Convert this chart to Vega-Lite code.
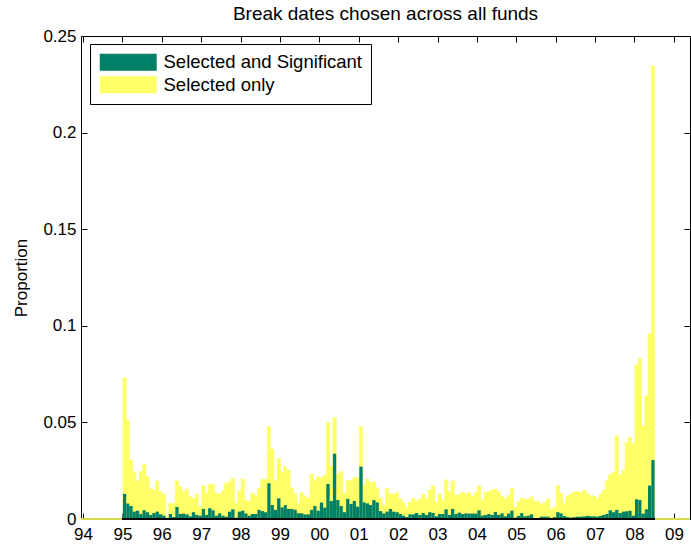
{
  "$schema": "https://vega.github.io/schema/vega-lite/v6.json",
  "width": 609,
  "height": 483,
  "autosize": "none",
  "padding": {"left": 81, "top": 36, "right": 1, "bottom": 26},
  "background": "white",
  "config": {
    "font": "Liberation Sans",
    "view": {"stroke": "#000", "strokeWidth": 1},
    "axis": {"grid": false, "domainColor": "#000", "tickColor": "#000", "labelColor": "#000", "titleColor": "#000", "labelFontSize": 17, "titleFontSize": 17, "titleFontWeight": "normal", "tickSize": -6}
  },
  "title": {"text": "Break dates chosen across all funds", "fontSize": 19, "fontWeight": "normal", "color": "#000", "anchor": "middle", "offset": 3},
  "data": {"values": [
    {"d":"1995-01-15","t":0.073,"s":0.013},{"d":"1995-02-15","t":0.051,"s":0.008},{"d":"1995-03-15","t":0.0305,"s":0.0067},{"d":"1995-04-15","t":0.0245,"s":0.0038},{"d":"1995-05-15","t":0.0197,"s":0.0043},{"d":"1995-06-15","t":0.0245,"s":0.0026},{"d":"1995-07-15","t":0.0283,"s":0.0045},{"d":"1995-08-15","t":0.0219,"s":0.0035},{"d":"1995-09-15","t":0.0155,"s":0.0021},{"d":"1995-10-15","t":0.015,"s":0.0031},{"d":"1995-11-15","t":0.0197,"s":0.0038},{"d":"1995-12-15","t":0.0141,"s":0.0024},
    {"d":"1996-01-15","t":0.0128,"s":0.0017},{"d":"1996-02-15","t":0.0012,"s":0.0003},{"d":"1996-03-15","t":0.0081,"s":0.0026},{"d":"1996-04-15","t":0.008,"s":0.001},{"d":"1996-05-15","t":0.0197,"s":0.0062},{"d":"1996-06-15","t":0.0167,"s":0.0026},{"d":"1996-07-15","t":0.0141,"s":0.0028},{"d":"1996-08-15","t":0.0155,"s":0.0024},{"d":"1996-09-15","t":0.0116,"s":0.0014},{"d":"1996-10-15","t":0.0107,"s":0.0035},{"d":"1996-11-15","t":0.0129,"s":0.0021},{"d":"1996-12-15","t":0.0064,"s":0.0017},
    {"d":"1997-01-15","t":0.0173,"s":0.0052},{"d":"1997-02-15","t":0.0133,"s":0.0021},{"d":"1997-03-15","t":0.0179,"s":0.0055},{"d":"1997-04-15","t":0.0179,"s":0.0045},{"d":"1997-05-15","t":0.0133,"s":0.0017},{"d":"1997-06-15","t":0.0129,"s":0.0029},{"d":"1997-07-15","t":0.0147,"s":0.0017},{"d":"1997-08-15","t":0.0185,"s":0.0012},{"d":"1997-09-15","t":0.0193,"s":0.0038},{"d":"1997-10-15","t":0.021,"s":0.005},{"d":"1997-11-15","t":0.0081,"s":0.0007},{"d":"1997-12-15","t":0.0145,"s":0.0038},
    {"d":"1998-01-15","t":0.0207,"s":0.0043},{"d":"1998-02-15","t":0.0098,"s":0.0029},{"d":"1998-03-15","t":0.0093,"s":0.0017},{"d":"1998-04-15","t":0.0135,"s":0.0026},{"d":"1998-05-15","t":0.0121,"s":0.0026},{"d":"1998-06-15","t":0.0159,"s":0.0047},{"d":"1998-07-15","t":0.0205,"s":0.0041},{"d":"1998-08-15","t":0.0205,"s":0.0035},{"d":"1998-09-15","t":0.0478,"s":0.0185},{"d":"1998-10-15","t":0.0362,"s":0.0072},{"d":"1998-11-15","t":0.0197,"s":0.0047},{"d":"1998-12-15","t":0.0314,"s":0.0107},
    {"d":"1999-01-15","t":0.0242,"s":0.006},{"d":"1999-02-15","t":0.0271,"s":0.0072},{"d":"1999-03-15","t":0.0252,"s":0.0052},{"d":"1999-04-15","t":0.0162,"s":0.0052},{"d":"1999-05-15","t":0.0131,"s":0.0048},{"d":"1999-06-15","t":0.0081,"s":0.003},{"d":"1999-07-15","t":0.0136,"s":0.0029},{"d":"1999-08-15","t":0.0121,"s":0.0024},{"d":"1999-09-15","t":0.0107,"s":0.0024},{"d":"1999-10-15","t":0.0231,"s":0.0047},{"d":"1999-11-15","t":0.0197,"s":0.0067},{"d":"1999-12-15","t":0.0219,"s":0.0043},
    {"d":"2000-01-15","t":0.0214,"s":0.0085},{"d":"2000-02-15","t":0.0228,"s":0.0059},{"d":"2000-03-15","t":0.05,"s":0.0181},{"d":"2000-04-15","t":0.0274,"s":0.0093},{"d":"2000-05-15","t":0.0524,"s":0.0338},{"d":"2000-06-15","t":0.0233,"s":0.0098},{"d":"2000-07-15","t":0.0245,"s":0.0067},{"d":"2000-08-15","t":0.0133,"s":0.0035},{"d":"2000-09-15","t":0.02,"s":0.0104},{"d":"2000-10-15","t":0.0197,"s":0.0078},{"d":"2000-11-15","t":0.0214,"s":0.0093},{"d":"2000-12-15","t":0.0214,"s":0.0064},
    {"d":"2001-01-15","t":0.0478,"s":0.0271},{"d":"2001-02-15","t":0.0176,"s":0.0086},{"d":"2001-03-15","t":0.0207,"s":0.0081},{"d":"2001-04-15","t":0.019,"s":0.0072},{"d":"2001-05-15","t":0.0193,"s":0.0098},{"d":"2001-06-15","t":0.0162,"s":0.0086},{"d":"2001-07-15","t":0.011,"s":0.0041},{"d":"2001-08-15","t":0.0072,"s":0.0029},{"d":"2001-09-15","t":0.0159,"s":0.0038},{"d":"2001-10-15","t":0.0129,"s":0.0052},{"d":"2001-11-15","t":0.0129,"s":0.0038},{"d":"2001-12-15","t":0.0138,"s":0.0035},
    {"d":"2002-01-15","t":0.0104,"s":0.0026},{"d":"2002-02-15","t":0.0086,"s":0.0017},{"d":"2002-03-15","t":0.006,"s":0.001},{"d":"2002-04-15","t":0.0086,"s":0.0024},{"d":"2002-05-15","t":0.0107,"s":0.0024},{"d":"2002-06-15","t":0.0093,"s":0.0031},{"d":"2002-07-15","t":0.0102,"s":0.0021},{"d":"2002-08-15","t":0.0128,"s":0.0031},{"d":"2002-09-15","t":0.0104,"s":0.0021},{"d":"2002-10-15","t":0.015,"s":0.0035},{"d":"2002-11-15","t":0.0171,"s":0.0031},{"d":"2002-12-15","t":0.0085,"s":0.0014},
    {"d":"2003-01-15","t":0.0128,"s":0.0026},{"d":"2003-02-15","t":0.0095,"s":0.0026},{"d":"2003-03-15","t":0.0202,"s":0.005},{"d":"2003-04-15","t":0.0141,"s":0.0021},{"d":"2003-05-15","t":0.0197,"s":0.0052},{"d":"2003-06-15","t":0.0121,"s":0.0026},{"d":"2003-07-15","t":0.0128,"s":0.0033},{"d":"2003-08-15","t":0.0138,"s":0.0026},{"d":"2003-09-15","t":0.0129,"s":0.0029},{"d":"2003-10-15","t":0.0138,"s":0.0028},{"d":"2003-11-15","t":0.0116,"s":0.0028},{"d":"2003-12-15","t":0.0136,"s":0.0028},
    {"d":"2004-01-15","t":0.0173,"s":0.0045},{"d":"2004-02-15","t":0.0098,"s":0.0017},{"d":"2004-03-15","t":0.0138,"s":0.0021},{"d":"2004-04-15","t":0.0141,"s":0.0026},{"d":"2004-05-15","t":0.015,"s":0.0021},{"d":"2004-06-15","t":0.0155,"s":0.0036},{"d":"2004-07-15","t":0.0141,"s":0.0021},{"d":"2004-08-15","t":0.0119,"s":0.0029},{"d":"2004-09-15","t":0.0104,"s":0.0014},{"d":"2004-10-15","t":0.0121,"s":0.0028},{"d":"2004-11-15","t":0.0159,"s":0.0043},{"d":"2004-12-15","t":0.006,"s":0.0007},
    {"d":"2005-01-15","t":0.009,"s":0.0016},{"d":"2005-02-15","t":0.0107,"s":0.0031},{"d":"2005-03-15","t":0.0102,"s":0.0014},{"d":"2005-04-15","t":0.0102,"s":0.0017},{"d":"2005-05-15","t":0.0114,"s":0.0024},{"d":"2005-06-15","t":0.0093,"s":0.0003},{"d":"2005-07-15","t":0.009,"s":0.0003},{"d":"2005-08-15","t":0.0078,"s":0.0012},{"d":"2005-09-15","t":0.0086,"s":0.0012},{"d":"2005-10-15","t":0.0104,"s":0.0012},{"d":"2005-11-15","t":0.0052,"s":0.0003},{"d":"2005-12-15","t":0.006,"s":0.001},
    {"d":"2006-01-15","t":0.0173,"s":0.0035},{"d":"2006-02-15","t":0.0133,"s":0.0029},{"d":"2006-03-15","t":0.0081,"s":0.0016},{"d":"2006-04-15","t":0.0119,"s":0.001},{"d":"2006-05-15","t":0.0129,"s":0.0007},{"d":"2006-06-15","t":0.0141,"s":0.001},{"d":"2006-07-15","t":0.0141,"s":0.0012},{"d":"2006-08-15","t":0.0136,"s":0.0012},{"d":"2006-09-15","t":0.015,"s":0.0014},{"d":"2006-10-15","t":0.0133,"s":0.0016},{"d":"2006-11-15","t":0.0119,"s":0.0014},{"d":"2006-12-15","t":0.0119,"s":0.0014},
    {"d":"2007-01-15","t":0.0107,"s":0.0012},{"d":"2007-02-15","t":0.0128,"s":0.0016},{"d":"2007-03-15","t":0.015,"s":0.0021},{"d":"2007-04-15","t":0.0198,"s":0.0026},{"d":"2007-05-15","t":0.0228,"s":0.0045},{"d":"2007-06-15","t":0.0242,"s":0.0035},{"d":"2007-07-15","t":0.043,"s":0.0047},{"d":"2007-08-15","t":0.0228,"s":0.0031},{"d":"2007-09-15","t":0.025,"s":0.0038},{"d":"2007-10-15","t":0.0397,"s":0.004},{"d":"2007-11-15","t":0.0423,"s":0.0043},{"d":"2007-12-15","t":0.0392,"s":0.0017},
    {"d":"2008-01-15","t":0.0797,"s":0.0102},{"d":"2008-02-15","t":0.0832,"s":0.0098},{"d":"2008-03-15","t":0.0481,"s":0.0028},{"d":"2008-04-15","t":0.0637,"s":0.005},{"d":"2008-05-15","t":0.0958,"s":0.0173},{"d":"2008-06-15","t":0.2345,"s":0.0305}
  ]},
  "layer": [
    {
      "mark": {"type": "bar", "opacity": 1, "binSpacing": 0, "stroke": "#FFFF66", "strokeWidth": 0.6},
      "encoding": {
        "x": {"field": "d", "timeUnit": "yearmonth", "type": "temporal",
              "scale": {"domain": [{"year": 1993, "month": 12, "date": 13}, {"year": 2009, "month": 5, "date": 30}]},
              "axis": {"orient": "bottom", "title": null, "format": "%y", "labelPadding": 13,
                       "values": [{"year":1994,"month":1,"date":1},{"year":1995,"month":1,"date":1},{"year":1996,"month":1,"date":1},{"year":1997,"month":1,"date":1},{"year":1998,"month":1,"date":1},{"year":1999,"month":1,"date":1},{"year":2000,"month":1,"date":1},{"year":2001,"month":1,"date":1},{"year":2002,"month":1,"date":1},{"year":2003,"month":1,"date":1},{"year":2004,"month":1,"date":1},{"year":2005,"month":1,"date":1},{"year":2006,"month":1,"date":1},{"year":2007,"month":1,"date":1},{"year":2008,"month":1,"date":1},{"year":2009,"month":1,"date":1}]}},
        "y": {"field": "t", "type": "quantitative", "scale": {"domain": [0, 0.25], "nice": false},
              "axis": {"orient": "left", "title": "Proportion", "format": "~g", "labelPadding": 11, "titlePadding": 12, "values": [0, 0.05, 0.1, 0.15, 0.2, 0.25]}},
        "color": {"datum": "Selected only",
                  "scale": {"domain": ["Selected and Significant", "Selected only"], "range": ["#008066", "#FFFF66"]},
                  "legend": {"orient": "none", "legendX": 9, "legendY": 8, "title": null,
                             "symbolType": "M-1,-1H5.7V1H-1Z", "symbolSize": 289, "symbolStrokeWidth": 0, "symbolOpacity": 1,
                             "labelFontSize": 18.5, "labelColor": "#000", "labelOffset": 46, "labelLimit": 400,
                             "rowPadding": 3.5, "padding": 9, "strokeColor": "#000", "fillColor": "#fff"}}
      }
    },
    {
      "mark": {"type": "bar", "opacity": 1, "binSpacing": 0},
      "encoding": {
        "x": {"field": "d", "timeUnit": "yearmonth", "type": "temporal", "axis": null},
        "y": {"field": "s", "type": "quantitative", "axis": null},
        "color": {"datum": "Selected and Significant"}
      }
    },
    {
      "mark": {"type": "rule", "color": "#D8D850", "strokeWidth": 1.5},
      "encoding": {
        "x": {"datum": {"year": 1993, "month": 12, "date": 13}, "type": "temporal",
              "axis": {"orient": "top", "title": null, "labels": false,
                       "values": [{"year":1994,"month":1,"date":1},{"year":1995,"month":1,"date":1},{"year":1996,"month":1,"date":1},{"year":1997,"month":1,"date":1},{"year":1998,"month":1,"date":1},{"year":1999,"month":1,"date":1},{"year":2000,"month":1,"date":1},{"year":2001,"month":1,"date":1},{"year":2002,"month":1,"date":1},{"year":2003,"month":1,"date":1},{"year":2004,"month":1,"date":1},{"year":2005,"month":1,"date":1},{"year":2006,"month":1,"date":1},{"year":2007,"month":1,"date":1},{"year":2008,"month":1,"date":1},{"year":2009,"month":1,"date":1}]}},
        "x2": {"datum": {"year": 2009, "month": 5, "date": 30}},
        "y": {"datum": 0, "type": "quantitative",
              "axis": {"orient": "right", "title": null, "labels": false, "values": [0, 0.05, 0.1, 0.15, 0.2, 0.25]}}
      }
    },
    {
      "mark": {"type": "rule", "color": "#000", "strokeWidth": 1.5},
      "encoding": {
        "x": {"datum": {"year": 1995, "month": 1, "date": 1}, "type": "temporal", "axis": null},
        "x2": {"datum": {"year": 2008, "month": 7, "date": 1}},
        "y": {"datum": 0, "type": "quantitative", "axis": null}
      }
    }
  ],
  "resolve": {"axis": {"x": "independent", "y": "independent"}}
}
